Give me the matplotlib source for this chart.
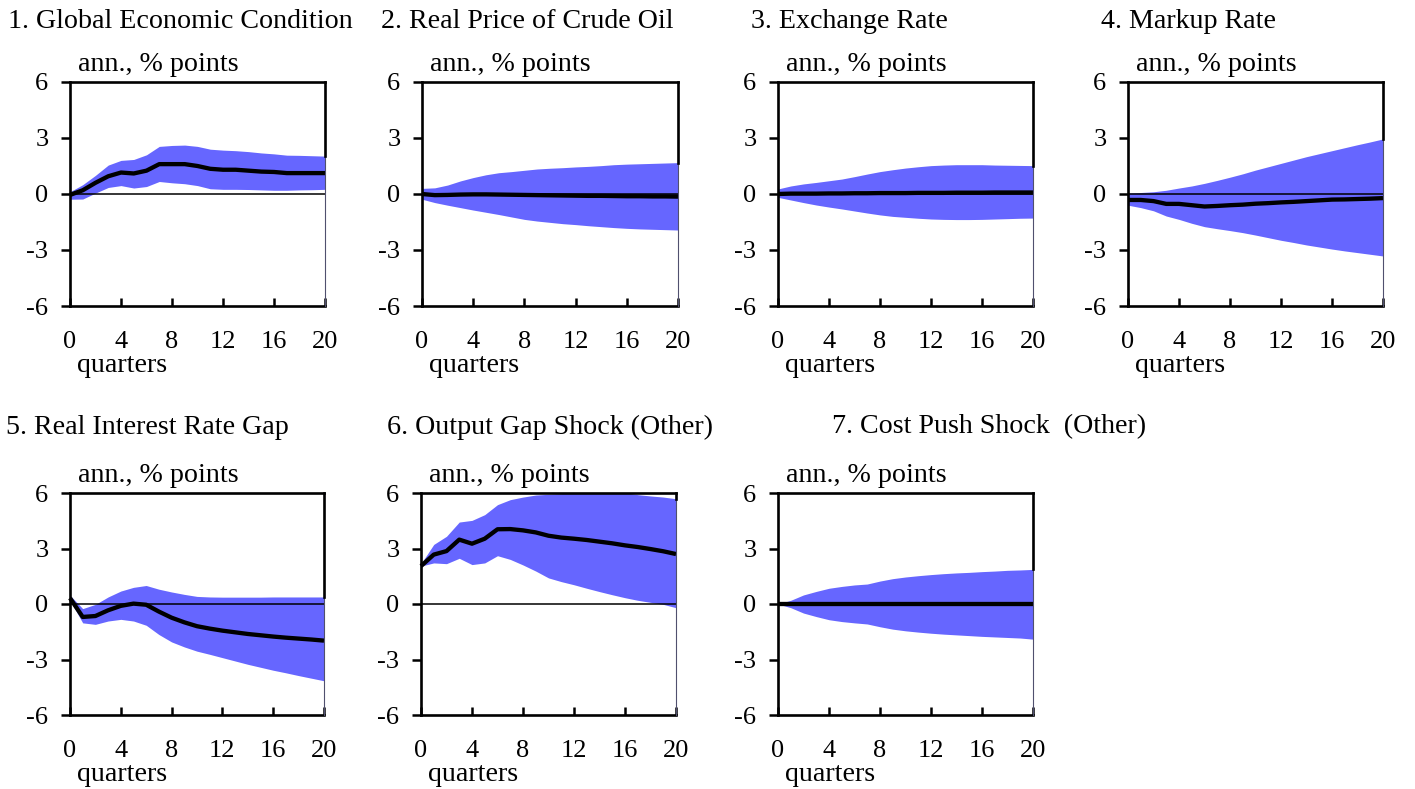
import matplotlib
matplotlib.use("Agg")
from matplotlib import pyplot

pyplot.rcParams["font.family"] = ["Liberation Serif", "DejaVu Serif"]
pyplot.rcParams["axes.unicode_minus"] = False

quarters = list(range(21))

titles = [
    "1. Global Economic Condition",
    "2. Real Price of Crude Oil",
    "3. Exchange Rate",
    "4. Markup Rate",
    "5. Real Interest Rate Gap",
    "6. Output Gap Shock (Other)",
    "7. Cost Push Shock  (Other)",
]

# Impulse responses: median and the edges of the confidence band
global_median = [-0.05, 0.2, 0.6, 0.95, 1.15, 1.1, 1.25, 1.6, 1.6, 1.6, 1.5,
                 1.35, 1.3, 1.3, 1.25, 1.2, 1.18, 1.12, 1.12, 1.12, 1.12]
global_upper = [0.12, 0.5, 1.0, 1.55, 1.8, 1.85, 2.1, 2.55, 2.6, 2.62, 2.55,
                2.4, 2.35, 2.32, 2.27, 2.2, 2.15, 2.08, 2.07, 2.05, 2.03]
global_lower = [-0.28, -0.27, 0.05, 0.35, 0.45, 0.32, 0.4, 0.67, 0.6, 0.55, 0.45,
                0.28, 0.25, 0.25, 0.24, 0.22, 0.2, 0.2, 0.22, 0.23, 0.25]

oil_median = [0.0, -0.06, -0.05, -0.03, -0.02, -0.02, -0.03, -0.04, -0.05, -0.06, -0.07,
              -0.08, -0.09, -0.1, -0.1, -0.11, -0.12, -0.12, -0.13, -0.13, -0.14]
oil_upper = [0.3, 0.33, 0.48, 0.7, 0.88, 1.03, 1.14, 1.2, 1.27, 1.34, 1.38,
             1.41, 1.45, 1.48, 1.52, 1.57, 1.6, 1.62, 1.64, 1.66, 1.68]
oil_lower = [-0.28, -0.46, -0.6, -0.73, -0.86, -0.98, -1.1, -1.23, -1.36, -1.45, -1.52,
             -1.59, -1.64, -1.7, -1.75, -1.8, -1.84, -1.87, -1.89, -1.91, -1.93]

exchange_median = [0.0, 0.02, 0.02, 0.02, 0.03, 0.03, 0.04, 0.04, 0.05, 0.05, 0.05,
                   0.06, 0.06, 0.06, 0.07, 0.07, 0.07, 0.08, 0.08, 0.08, 0.08]
exchange_upper = [0.27, 0.43, 0.54, 0.62, 0.71, 0.8, 0.93, 1.07, 1.2, 1.3, 1.39,
                  1.46, 1.52, 1.55, 1.57, 1.57, 1.57, 1.55, 1.54, 1.53, 1.52]
exchange_lower = [-0.18, -0.32, -0.46, -0.59, -0.7, -0.8, -0.91, -1.02, -1.12, -1.2, -1.25,
                  -1.3, -1.34, -1.36, -1.37, -1.37, -1.36, -1.34, -1.32, -1.3, -1.29]

markup_median = [-0.32, -0.32, -0.38, -0.53, -0.53, -0.6, -0.67, -0.64, -0.6, -0.57, -0.52,
                 -0.49, -0.45, -0.42, -0.38, -0.34, -0.3, -0.29, -0.27, -0.25, -0.22]
markup_upper = [0.05, 0.08, 0.12, 0.2, 0.32, 0.43, 0.57, 0.73, 0.9, 1.08, 1.28,
                1.46, 1.64, 1.82, 2.0, 2.16, 2.32, 2.48, 2.64, 2.79, 2.95]
markup_lower = [-0.6, -0.73, -0.9, -1.18, -1.36, -1.57, -1.75, -1.86, -1.96, -2.07, -2.2,
                -2.34, -2.48, -2.6, -2.73, -2.84, -2.95, -3.05, -3.14, -3.23, -3.32]

interest_median = [0.32, -0.7, -0.65, -0.34, -0.1, 0.02, -0.04, -0.41, -0.74, -0.99, -1.2,
                   -1.33, -1.44, -1.53, -1.62, -1.69, -1.76, -1.82, -1.87, -1.92, -1.98]
interest_upper = [0.47, -0.25, -0.02, 0.38, 0.7, 0.9, 1.0, 0.8, 0.65, 0.52, 0.41,
                  0.38, 0.37, 0.37, 0.37, 0.37, 0.38, 0.38, 0.38, 0.38, 0.38]
interest_lower = [0.2, -1.02, -1.1, -0.92, -0.83, -0.92, -1.15, -1.65, -2.05, -2.32, -2.55,
                  -2.72, -2.9, -3.08, -3.26, -3.42, -3.58, -3.72, -3.87, -4.01, -4.15]

output_median = [2.05, 2.67, 2.86, 3.48, 3.26, 3.53, 4.04, 4.05, 3.98, 3.87, 3.69,
                 3.59, 3.53, 3.46, 3.37, 3.28, 3.17, 3.08, 2.97, 2.85, 2.7]
output_upper = [2.18, 3.22, 3.66, 4.43, 4.52, 4.83, 5.37, 5.64, 5.78, 5.89, 5.93,
                5.97, 6.02, 6.08, 6.1, 6.08, 6.02, 5.91, 5.84, 5.78, 5.69]
output_lower = [2.05, 2.22, 2.18, 2.47, 2.13, 2.22, 2.61, 2.41, 2.11, 1.78, 1.41,
                1.21, 1.04, 0.85, 0.67, 0.5, 0.34, 0.2, 0.09, -0.02, -0.2]

cost_push_median = [0.0] * 21
cost_push_upper = [0.0, 0.2, 0.49, 0.68, 0.85, 0.95, 1.03, 1.08, 1.24, 1.37, 1.46,
                   1.53, 1.59, 1.64, 1.68, 1.71, 1.75, 1.78, 1.82, 1.84, 1.87]
cost_push_lower = [0.0, -0.2, -0.49, -0.68, -0.85, -0.95, -1.02, -1.08, -1.23, -1.36, -1.45,
                   -1.52, -1.58, -1.63, -1.67, -1.71, -1.75, -1.78, -1.81, -1.84, -1.9]

y_ticks = [-6, -3, 0, 3, 6]
x_ticks = [0, 4, 8, 12, 16, 20]

BAND_COLOR = "#6666ff"
WIDTH, HEIGHT = 1415, 789


def draw_panel(axes, median, upper, lower):
    axes.fill_between(quarters, lower, upper, color=BAND_COLOR, linewidth=0, zorder=1)
    axes.axhline(0, color="black", linewidth=1.1, zorder=2)
    axes.plot(quarters, median, color="black", linewidth=3.1, zorder=3,
              solid_capstyle="butt", clip_on=False)

    axes.set_xlim(0, 20)
    axes.set_ylim(-6, 6)
    axes.set_xticks(x_ticks)
    axes.set_yticks(y_ticks)
    axes.tick_params(axis="y", direction="out", length=6.5, width=1.8,
                     labelsize=19, pad=9)
    axes.tick_params(axis="x", direction="in", length=5.5, width=1.8,
                     labelsize=19, pad=18)

    for side in ("left", "top", "bottom"):
        axes.spines[side].set_linewidth(1.9)
    # right edge: heavy above the band, hairline below it
    axes.spines["right"].set_visible(False)
    axes.plot([20, 20], [-6, 6], color="#50506e", linewidth=0.8, zorder=4, clip_on=False)
    axes.plot([20, 20], [6, upper[-1]], color="black", linewidth=1.9, zorder=4,
              clip_on=False, solid_capstyle="projecting")

    axes.annotate("ann., % points", xy=(0, 1), xycoords="axes fraction",
                  xytext=(6, 12.5), textcoords="offset points", va="center",
                  fontsize=20.2)
    axes.annotate("quarters", xy=(0, 0), xycoords="axes fraction",
                  xytext=(5, -42.5), textcoords="offset points", va="center",
                  fontsize=20.2)


def main() -> None:
    figure = pyplot.figure(figsize=(WIDTH / 100, HEIGHT / 100), dpi=100)

    panels = [
        (global_median, global_upper, global_lower),
        (oil_median, oil_upper, oil_lower),
        (exchange_median, exchange_upper, exchange_lower),
        (markup_median, markup_upper, markup_lower),
        (interest_median, interest_upper, interest_lower),
        (output_median, output_upper, output_lower),
        (cost_push_median, cost_push_upper, cost_push_lower),
    ]

    # pixel boxes: left, top, width, height
    boxes = [
        (70, 82, 255, 224), (422, 82, 256, 224), (778, 82, 255, 224), (1128, 82, 255, 224),
        (70, 493, 254, 222), (421, 493, 255, 222), (778, 493, 255, 222),
    ]
    title_spots = [(8, 22), (381, 22), (751, 22), (1101, 22),
                   (6, 427), (387, 427), (832, 427)]

    for (median, upper, lower), (left, top, w, h), title, (tx, ty) in zip(
            panels, boxes, titles, title_spots):
        axes = figure.add_axes([left / WIDTH, 1 - (top + h) / HEIGHT, w / WIDTH, h / HEIGHT])
        draw_panel(axes, median, upper, lower)
        figure.text(tx / WIDTH, 1 - ty / HEIGHT, title, fontsize=20.2, va="center", ha="left")

    figure.savefig("out.png", dpi=100)


if __name__ == "__main__":
    main()
